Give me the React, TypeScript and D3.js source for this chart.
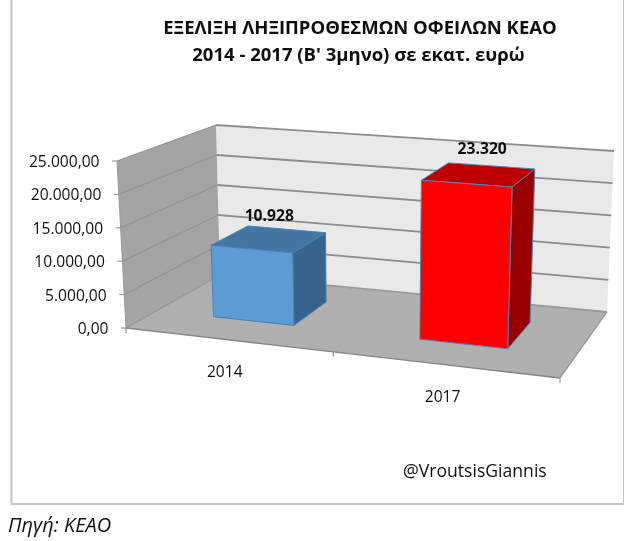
import React from "react";
import * as d3 from "d3";

const categories = ["2014", "2017"];
const values = [10928, 23320];
const valueLabels = ["10.928", "23.320"];
const yTicks = [0, 5000, 10000, 15000, 20000, 25000];
const yTickLabels = ["0,00", "5.000,00", "10.000,00", "15.000,00", "20.000,00", "25.000,00"];
const titleLines = ["ΕΞΕΛΙΞΗ ΛΗΞΙΠΡΟΘΕΣΜΩΝ ΟΦΕΙΛΩΝ ΚΕΑΟ", "2014 - 2017 (Β' 3μηνο) σε εκατ. ευρώ"];
const handle = "@VroutsisGiannis";
const source = "Πηγή: ΚΕΑΟ";

const barColors = [
  { front: "#5b9bd5", top: "#4475a3", side: "#38638c", stroke: "#4a80b4" },
  { front: "#ff0000", top: "#c00000", side: "#9a0000", stroke: "#4f86b0" },
];

type Pt = [number, number];
// projected corners of the 3D plot box (floor and top, front and back)
const floorFL: Pt = [126, 328], floorFR: Pt = [560, 378], floorBL: Pt = [220, 275], floorBR: Pt = [607, 312];
const topFL: Pt = [117, 161], topFR: Pt = [567, 195], topBL: Pt = [216, 125], topBR: Pt = [614, 151];

const lerp = (a: Pt, b: Pt, t: number): Pt => [a[0] + (b[0] - a[0]) * t, a[1] + (b[1] - a[1]) * t];
const project = (u: number, d: number, t: number): Pt => {
  const f = lerp(lerp(floorFL, floorFR, u), lerp(floorBL, floorBR, u), d);
  const c = lerp(lerp(topFL, topFR, u), lerp(topBL, topBR, u), d);
  return lerp(f, c, t);
};

const yScale = d3.scaleLinear().domain([0, 25000]).range([0, 1]);
const band = d3.scaleBand<string>().domain(categories).range([0, 1]).paddingInner(0.6).paddingOuter(0.3);
// foreshortening along the category axis
const persp = d3.scaleLinear().domain([0, 0.15, 0.35, 0.65, 0.85, 1]).range([0, 0.135, 0.327, 0.628, 0.838, 1]);
const depthFront = 0.33, depthBack = 0.74;

const poly = (pts: Pt[]) => (d3.line()(pts) as string) + "Z";
const font = "'Open Sans', 'Noto Sans', sans-serif";

export default function App() {
  const bw = band.bandwidth();
  return (
    <svg width={640} height={541} viewBox="0 0 640 541" style={{ position: "absolute", left: 0, top: 0, display: "block", background: "#fff" }} fontFamily={font}>
      <defs>
        <filter id="soft" x="0" y="0" width="100%" height="100%"><feGaussianBlur stdDeviation="0.45" /></filter>
      </defs>
      <g filter="url(#soft)">
        <path d="M11.5,0V504H624V0" fill="none" stroke="#c4c4c4" strokeWidth={2} />
        <path d={poly([project(0, 1, 0), project(1, 1, 0), project(1, 1, 1), project(0, 1, 1)])} fill="#e9e9e9" />
        <path d={poly([project(0, 0, 0), project(0, 1, 0), project(0, 1, 1), project(0, 0, 1)])} fill="#a4a4a4" />
        <path d={poly([project(0, 0, 0), project(1, 0, 0), project(1, 1, 0), project(0, 1, 0)])} fill="#b0b0b0" />
        {yTicks.map((v) => {
          const t = yScale(v);
          return (
            <g key={v} fill="none">
              <path d={d3.line()([project(0, 1, t), project(1, 1, t)]) as string} stroke={v === 0 ? "#9a9a9a" : "#8c8c8c"} strokeWidth={1.8} />
              <path d={d3.line()([project(0, 0, t), project(0, 1, t)]) as string} stroke="#939393" strokeWidth={1.2} />
              <path d={d3.line()([project(0, 0, t), [project(0, 0, t)[0] - 5, project(0, 0, t)[1]]]) as string} stroke="#8a8a8a" strokeWidth={1} />
            </g>
          );
        })}
        <path d={d3.line()([project(0, 0, 0), project(0, 0, 1)]) as string} stroke="#9a9a9a" fill="none" />
        <path d={d3.line()([0, 0.125, 0.25, 0.375, 0.5, 0.625, 0.75, 0.875, 1].map((k) => project(persp(k), 0, 0)))!} stroke="#858585" strokeWidth={1.4} fill="none" />
        <path d={d3.line()([project(1, 0, 0), project(1, 1, 0)]) as string} stroke="#8f8f8f" strokeWidth={1.2} fill="none" />
        {[0, 0.5, 1].map((k) => {
          const p = project(persp(k), 0, 0);
          return <path key={k} d={d3.line()([p, [p[0], p[1] + 5]]) as string} stroke="#8a8a8a" />;
        })}
        {categories.map((c, i) => {
          const u0 = persp(band(c) as number), u1 = persp((band(c) as number) + bw);
          const t = yScale(values[i]);
          const col = barColors[i];
          const common = { stroke: col.stroke, strokeWidth: 1, strokeLinejoin: "round" as const };
          return (
            <g key={c}>
              <path d={poly([project(u1, depthFront, 0), project(u1, depthBack, 0), project(u1, depthBack, t), project(u1, depthFront, t)])} fill={col.side} {...common} />
              <path d={poly([project(u0, depthFront, t), project(u1, depthFront, t), project(u1, depthBack, t), project(u0, depthBack, t)])} fill={col.top} {...common} />
              <path d={poly([project(u0, depthFront, 0), project(u1, depthFront, 0), project(u1, depthFront, t), project(u0, depthFront, t)])} fill={col.front} {...common} />
            </g>
          );
        })}
        <g fill="#111" fontSize={15.6}>
          {yTicks.map((v, i) => {
            const p = project(0, 0, yScale(v));
            return <text key={v} x={p[0] - 17.5} y={p[1] + 6} textAnchor="end">{yTickLabels[i]}</text>;
          })}
          {categories.map((c) => {
            const k = (band(c) as number) + bw / 2;
            const p = project(persp(k), 0, 0);
            return <text key={c} x={p[0] - 1.5} y={p[1] + 37.5} textAnchor="middle">{c}</text>;
          })}
        </g>
        <g fill="#111" fontSize={15.7} fontWeight={700}>
          {categories.map((c, i) => {
            const k = (band(c) as number) + bw / 2;
            const p = project(persp(k), (depthFront + depthBack) / 2, yScale(values[i]));
            return <text key={c} x={p[0] + (i ? 3 : 0)} y={p[1] - (i ? 21 : 18)} textAnchor="middle">{valueLabels[i]}</text>;
          })}
        </g>
        <g fill="#111" fontWeight={700} fontSize={18.5} textAnchor="middle">
          {titleLines.map((l, i) => <text key={l} x={360 - i * 1.5} y={34 + i * 27}>{l}</text>)}
        </g>
        <text x={403} y={477} fill="#111" fontSize={17.6}>{handle}</text>
        <text x={8} y={532} fill="#111" fontSize={20} fontStyle="italic">{source}</text>
      </g>
    </svg>
  );
}
